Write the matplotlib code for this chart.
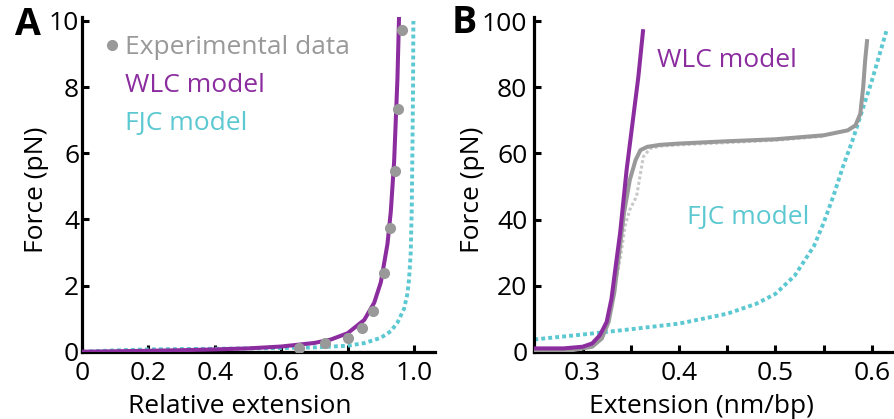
import matplotlib
matplotlib.use('Agg')
import matplotlib.pyplot as plt
from matplotlib.lines import Line2D

plt.rcParams['font.family'] = ['Open Sans', 'DejaVu Sans']

purple = '#8b2d9f'
teal = '#5cc8d1'
gray = '#999999'
light_gray = '#c8c8c8'

# panel A: relative extension vs force (pN)
exp_x = [0.653, 0.733, 0.802, 0.842, 0.877, 0.909, 0.927, 0.942, 0.953, 0.963]
exp_f = [0.11, 0.26, 0.41, 0.71, 1.24, 2.39, 3.75, 5.45, 7.34, 9.74]

wlc_a_x = [0, 0.1, 0.2, 0.3, 0.4, 0.5, 0.6, 0.7, 0.75, 0.8, 0.85, 0.88, 0.9, 0.92, 0.93, 0.94, 0.95, 0.955]
wlc_a_f = [0, 0.013, 0.028, 0.046, 0.069, 0.10, 0.157, 0.265, 0.37, 0.56, 0.96, 1.48, 2.10, 3.26, 4.24, 5.75, 8.26, 10.2]

fjc_a_x = [0, 0.1, 0.2, 0.4, 0.6, 0.7, 0.8, 0.85, 0.9, 0.93, 0.95, 0.97, 0.98, 0.985, 0.99, 0.993, 0.995, 0.997, 0.998]
fjc_a_f = [0, 0.04, 0.07, 0.09, 0.11, 0.13, 0.18, 0.26, 0.42, 0.62, 0.88, 1.3, 1.75, 2.2, 3.0, 4.3, 6.0, 8.0, 10.0]

# panel B: extension (nm/bp) vs force (pN)
wlc_b_x = [0.25, 0.28, 0.30, 0.31, 0.318, 0.325, 0.330, 0.334, 0.339, 0.3457, 0.3526, 0.3578, 0.3627]
wlc_b_f = [1.0, 1.0, 1.5, 2.5, 5, 9, 16, 25, 36, 55, 71, 83, 97]

stretch_x = [0.25, 0.29, 0.31, 0.32, 0.327, 0.333, 0.338, 0.343, 0.349, 0.355, 0.36, 0.367, 0.38, 0.4,
             0.45, 0.5, 0.55, 0.575, 0.583, 0.588, 0.591, 0.593, 0.595]
stretch_f = [0.3, 0.5, 1.5, 4, 9, 18, 30, 42, 52, 58, 61, 62, 62.6, 63, 63.7, 64.3, 65.5, 67, 68.5, 72, 80, 88, 94]

relax_x = [0.33, 0.337, 0.3406, 0.344, 0.349, 0.356, 0.3595, 0.363, 0.37, 0.38, 0.4, 0.45, 0.5, 0.55]
relax_f = [15, 25, 31, 38, 43, 47, 53, 59, 61.5, 62.2, 62.6, 63.3, 64, 65.2]

fjc_b_x = [0.25, 0.3, 0.35, 0.4, 0.45, 0.48, 0.5, 0.52, 0.54, 0.55, 0.56, 0.57, 0.58, 0.59, 0.6, 0.61, 0.615]
fjc_b_f = [3.7, 5.2, 6.8, 8.5, 11.5, 14.5, 17.5, 23, 32, 39, 47, 56, 64, 73, 82, 92, 97]

fs = 19
dots = (0, (1, 0.8))

fig = plt.figure(figsize=(8.95, 4.19), dpi=100)
axA = fig.add_axes([0.0916, 0.1606, 0.3944, 0.7988])
axB = fig.add_axes([0.597, 0.1606, 0.403, 0.7988])

for ax in (axA, axB):
    for s in ['top', 'right']:
        ax.spines[s].set_visible(False)
    for s in ['left', 'bottom']:
        ax.spines[s].set_linewidth(2.3)
    ax.tick_params(direction='in', length=5, width=2.2, labelsize=fs)

# A
axA.plot(wlc_a_x, wlc_a_f, color=purple, lw=2.9, zorder=3)
axA.plot(fjc_a_x, fjc_a_f, color=teal, lw=2.8, linestyle=dots, zorder=2)
axA.plot(exp_x, exp_f, 'o', color=gray, ms=7, zorder=4)
axA.set_xlim(0, 1.063)
axA.set_ylim(0, 10.12)
axA.set_xticks([0, 0.2, 0.4, 0.6, 0.8, 1.0])
axA.set_xticklabels(['0', '0.2', '0.4', '0.6', '0.8', '1.0'])
axA.set_yticks([0, 2, 4, 6, 8, 10])
axA.tick_params(axis='y', pad=2)
axA.tick_params(axis='x', pad=7)
axA.set_xlabel('Relative extension', fontsize=fs)
axA.set_ylabel('Force (pN)', fontsize=fs)
axA.xaxis.set_label_coords(0.448, -0.125)
axA.yaxis.set_label_coords(-0.093, 0.483)

handles = [Line2D([], [], marker='o', color=gray, ls='none', ms=7),
           Line2D([], [], color='none'),
           Line2D([], [], color='none')]
axA.legend(handles, ['Experimental data', 'WLC model', 'FJC model'],
           loc='upper left', bbox_to_anchor=(0.062, 0.946), frameon=False,
           fontsize=fs, handlelength=0.6, handletextpad=0.2, labelspacing=0.5,
           borderpad=0, borderaxespad=0, labelcolor=[gray, purple, teal])
axA.text(-0.19, 0.976, 'A', transform=axA.transAxes, fontsize=27, fontweight='bold',
         ha='left', va='center')

# B
axB.plot(fjc_b_x, fjc_b_f, color=teal, lw=2.8, linestyle=dots, zorder=2)
axB.plot(relax_x, relax_f, color=light_gray, lw=2.2, linestyle=dots, zorder=3)
axB.plot(stretch_x, stretch_f, color=gray, lw=2.9, zorder=4)
axB.plot(wlc_b_x, wlc_b_f, color=purple, lw=2.9, zorder=5)
axB.set_xlim(0.25, 0.624)
axB.set_ylim(0, 101.3)
axB.set_xticks([0.3, 0.35, 0.4, 0.45, 0.5, 0.55, 0.6])
axB.set_xticklabels(['0.3', '', '0.4', '', '0.5', '', '0.6'])
axB.set_yticks([0, 20, 40, 60, 80, 100])
axB.tick_params(axis='y', pad=5)
axB.tick_params(axis='x', pad=7)
axB.set_xlabel('Extension (nm/bp)', fontsize=fs)
axB.set_ylabel('Force (pN)', fontsize=fs)
axB.xaxis.set_label_coords(0.464, -0.125)
axB.yaxis.set_label_coords(-0.137, 0.483)
axB.text(0.3768, 88, 'WLC model', color=purple, fontsize=fs, ha='left', va='center')
axB.text(0.4079, 40.5, 'FJC model', color=teal, fontsize=fs, ha='left', va='center')
axB.text(-0.229, 0.981, 'B', transform=axB.transAxes, fontsize=27, fontweight='bold',
         ha='left', va='center')

fig.savefig('out.png', dpi=100)
